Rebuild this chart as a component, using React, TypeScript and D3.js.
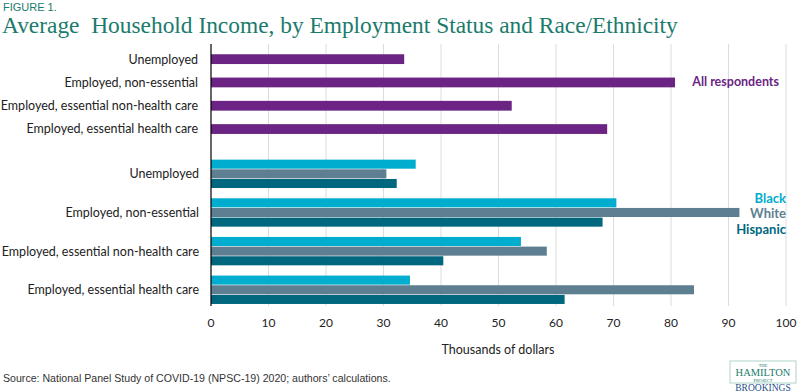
import React from "react";
import * as d3 from "d3";

const categories = [
  "Unemployed",
  "Employed, non-essential",
  "Employed, essential non-health care",
  "Employed, essential health care",
];
const allRespondents = [33.6, 80.7, 52.3, 68.9];
const races = ["Black", "White", "Hispanic"];
const black = [35.6, 70.5, 53.9, 34.6];
const white = [30.5, 91.9, 58.4, 84.0];
const hispanic = [32.3, 68.1, 40.4, 61.5];
const ticks = [0, 10, 20, 30, 40, 50, 60, 70, 80, 90, 100];

const W = 800;
const H = 392;
const PURPLE = "#6b2483";
const raceColors = ["#00adcf", "#5e7f91", "#00677f"];
const TEAL = "#1a7b6c";
const LABEL_FONT = "Lato, 'Open Sans', sans-serif";

export default function App() {
  const x = d3.scaleLinear().domain([0, 100]).range([211, 786]);
  const yTop = d3
    .scaleBand<string>()
    .domain(categories)
    .range([47.5, 47.5 + 4 * 23.3])
    .paddingInner(0.58)
    .paddingOuter(0.29);
  const yGroup = d3
    .scaleBand<string>()
    .domain(categories)
    .range([154.5, 154.5 + 4 * 38.65])
    .paddingInner(0.25)
    .paddingOuter(0.125);
  const yRace = d3
    .scaleBand<string>()
    .domain(races)
    .range([0, yGroup.bandwidth()]);
  const raceValues = [black, white, hispanic];
  const gridTop = 44;
  const gridBottom = 306;

  return (
    <svg
      width={W}
      height={H}
      style={{ position: "absolute", left: 0, top: 0, background: "#fff" }}
    >
      <text x={3} y={11} fontFamily="'Liberation Sans', Arial, sans-serif" fontSize={11} fill={TEAL}>
        FIGURE 1.
      </text>
      <text x={2} y={32.5} fontFamily="'Liberation Serif', 'Times New Roman', serif" fontSize={23.4} fill={TEAL} style={{ whiteSpace: "pre" }}>
        {"Average  Household Income, by Employment Status and Race/Ethnicity"}
      </text>

      {ticks.slice(1).map((t) => (
        <line key={t} x1={x(t)} x2={x(t)} y1={gridTop} y2={gridBottom} stroke="#dcdcdc" strokeWidth={1} />
      ))}

      {categories.map((c, i) => (
        <rect key={c} x={x(0)} y={yTop(c)} width={x(allRespondents[i]) - x(0)} height={yTop.bandwidth()} fill={PURPLE} />
      ))}

      {categories.map((c, i) => (
        <g key={c} transform={`translate(0,${yGroup(c)})`}>
          {races.map((r, j) => (
            <rect
              key={r}
              x={x(0)}
              y={(yRace(r) as number) + 0.3}
              width={x(raceValues[j][i]) - x(0)}
              height={yRace.bandwidth() - 0.6}
              fill={raceColors[j]}
            />
          ))}
        </g>
      ))}

      <line x1={x(0)} x2={x(0)} y1={gridTop} y2={gridBottom} stroke="#000" strokeWidth={1.2} />

      {categories.map((c) => (
        <text key={c} x={198} y={(yTop(c) as number) + yTop.bandwidth() / 2} dy="0.35em" textAnchor="end" fontFamily={LABEL_FONT} fontSize={12.5} fill="#222">
          {c}
        </text>
      ))}
      {categories.map((c) => (
        <text key={c} x={199} y={(yGroup(c) as number) + yGroup.bandwidth() / 2} dy="0.35em" textAnchor="end" fontFamily={LABEL_FONT} fontSize={12.5} fill="#222">
          {c}
        </text>
      ))}

      {ticks.map((t) => (
        <text key={t} x={x(t)} y={323} dy="0.35em" textAnchor="middle" fontFamily={LABEL_FONT} fontSize={12} fill="#222">
          {t}
        </text>
      ))}
      <text x={498} y={350} dy="0.35em" textAnchor="middle" fontFamily={LABEL_FONT} fontSize={12.5} fill="#222">
        Thousands of dollars
      </text>

      <text x={779} y={82} dy="0.35em" textAnchor="end" fontFamily={LABEL_FONT} fontWeight="bold" fontSize={12.5} fill={PURPLE}>
        All respondents
      </text>
      {races.map((r, j) => (
        <text key={r} x={786} y={198 + j * 15.5} dy="0.35em" textAnchor="end" fontFamily={LABEL_FONT} fontWeight="bold" fontSize={13} fill={raceColors[j]}>
          {r}
        </text>
      ))}

      <text x={3} y={382} fontFamily="'Liberation Sans', Arial, sans-serif" fontSize={10.6} fill="#333">
        Source: National Panel Study of COVID-19 (NPSC-19) 2020; authors’ calculations.
      </text>

      <g>
        <rect x={730} y={361} width={66} height={22} fill="none" stroke="#9cc8bf" strokeWidth={0.8} />
        <text x={763} y={366.5} textAnchor="middle" fontFamily="'Liberation Serif', serif" fontSize={4.5} fill={TEAL}>THE</text>
        <text x={763} y={376} textAnchor="middle" fontFamily="'Liberation Serif', serif" fontSize={10.5} fill={TEAL}>HAMILTON</text>
        <text x={763} y={381.5} textAnchor="middle" fontFamily="'Liberation Serif', serif" fontSize={4.5} fill={TEAL}>PROJECT</text>
        <text x={763} y={391} textAnchor="middle" fontFamily="'Liberation Serif', serif" fontSize={9.5} fill="#1f4e8c">BROOKINGS</text>
      </g>
    </svg>
  );
}
